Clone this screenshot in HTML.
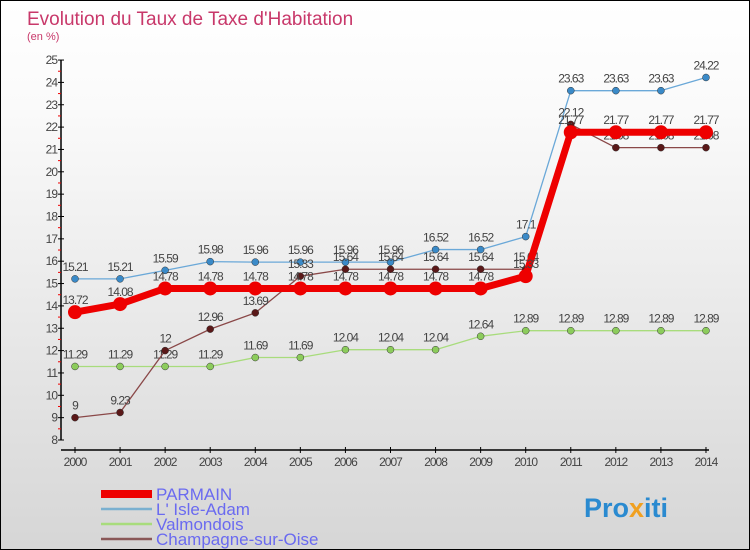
<!DOCTYPE html>
<html><head><meta charset="utf-8"><style>
body{margin:0}
#c{width:748px;height:548px;border:1px solid #000;background:linear-gradient(#fff,#fafafa 20%,#d6d6d6);position:relative;overflow:hidden;font-family:"Liberation Sans",sans-serif}
</style></head><body>
<div id="c">
<svg id="s" width="748" height="548" xmlns="http://www.w3.org/2000/svg"></svg>
</div>
<script>
const years=[2000,2001,2002,2003,2004,2005,2006,2007,2008,2009,2010,2011,2012,2013,2014];
const parmain=[13.72,14.08,14.78,14.78,14.78,14.78,14.78,14.78,14.78,14.78,15.33,21.77,21.77,21.77,21.77];
const isleAdam=[15.21,15.21,15.59,15.98,15.96,15.96,15.96,15.96,16.52,16.52,17.1,23.63,23.63,23.63,24.22];
const valmondois=[11.29,11.29,11.29,11.29,11.69,11.69,12.04,12.04,12.04,12.64,12.89,12.89,12.89,12.89,12.89];
const champagne=[9,9.23,12,12.96,13.69,15.33,15.64,15.64,15.64,15.64,15.64,22.12,21.08,21.08,21.08];
const yTicks=[8,9,10,11,12,13,14,15,16,17,18,19,20,21,22,23,24,25];
const legendNames=["PARMAIN","L' Isle-Adam","Valmondois","Champagne-sur-Oise"];
const NS="http://www.w3.org/2000/svg",s=document.getElementById('s');
const X=i=>74+i*45.07, Y=v=>439-(v-8)*22.35;
function el(t,a,txt,p){const e=document.createElementNS(NS,t);for(const k in a)e.setAttribute(k,a[k]);if(txt!==undefined)e.textContent=txt;(p||s).appendChild(e);return e;}
let e;
e=el('text',{x:26,y:24,'font-size':19,fill:'#c8386a'},"Evolution du Taux de Taxe d'Habitation");


e=el('text',{x:26,y:39,'font-size':11,fill:'#c8386a'},"(en %)");


e=el('line',{x1:60,y1:Y(25),x2:60,y2:Y(8),stroke:'#000','stroke-width':1.5});


e=el('line',{x1:60,y1:449,x2:708,y2:449,stroke:'#000','stroke-width':1.5});


yTicks.forEach(v=>{
 el('line',{x1:57,y1:Y(v),x2:63,y2:Y(v),stroke:'#000'});
 if(v<25) el('line',{x1:57,y1:Y(v+0.5),x2:60,y2:Y(v+0.5),stroke:'#e00'});
 e=el('text',{x:56,y:Y(v)+4,'font-size':12,fill:'#444','text-anchor':'end','letter-spacing':'-1'},v);
 
 
});
years.forEach((y,i)=>{
 el('line',{x1:X(i),y1:446,x2:X(i),y2:452,stroke:'#000'});
 e=el('text',{x:X(i),y:465,'font-size':12,fill:'#444','text-anchor':'middle','letter-spacing':'-1'},y);
 
 
});
const series=[[isleAdam,'#6aa8d8',1.3,'#3a8ac8',3.5,'isle-adam'],[valmondois,'#a8dc7c',1.3,'#8ccc5c',3.5,'valmondois'],[champagne,'#8a4848',1.3,'#5a1818',3.5,'champagne-sur-oise'],[parmain,'#ee0000',7,'#ee0000',7,'parmain']];
series.forEach(([d,c,w,mc,r,n])=>{
 e=el('polyline',{points:d.map((v,i)=>X(i)+','+Y(v)).join(' '),fill:'none',stroke:c,'stroke-width':w,'stroke-linejoin':'round'});
 
 
 d.forEach((v,i)=>{
  e=el('circle',{cx:X(i),cy:Y(v),r:r,fill:mc,stroke:'#333','stroke-width':n=='parmain'?0:0.5});
  
  
  e=el('text',{x:X(i),y:Y(v)-8,'font-size':12,fill:'#444','text-anchor':'middle','letter-spacing':'-1'},v);
  
  
 });
});
const lc=['#ee0000','#7ab0d0','#a8dc7c','#8a5858'],lw=[8,2.5,2.5,2.5];
legendNames.forEach((n,i)=>{
 const y=493+i*15;
 e=el('line',{x1:100,y1:y,x2:151,y2:y,stroke:lc[i],'stroke-width':lw[i]});
 
 
 e=el('text',{x:155,y:y+6,'font-size':17,fill:'#6a6af0'},n);
 
 
});
e=el('text',{x:583,y:516,'font-size':27,'font-weight':'bold',fill:'#2a8ad0'});


el('tspan',{},"Pro",e);
el('tspan',{fill:'#f0a020'},"x",e);
el('tspan',{},"iti",e);
</script>
</body></html>
